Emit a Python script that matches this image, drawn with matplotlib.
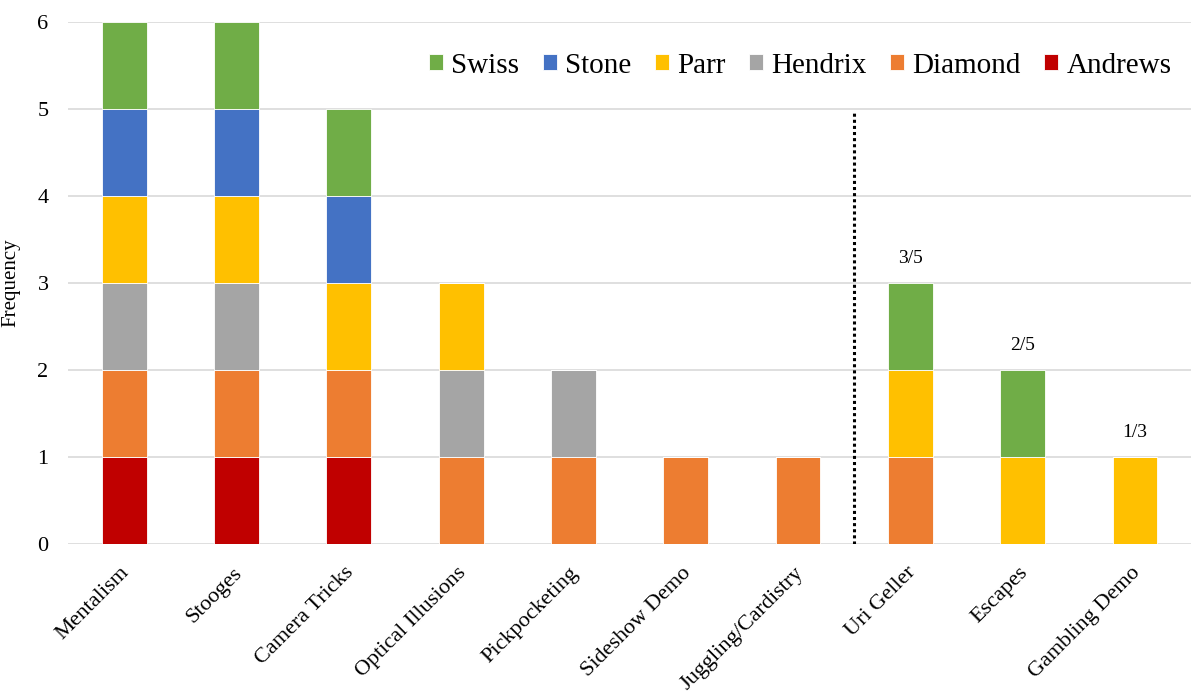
import matplotlib
matplotlib.use("Agg")
import matplotlib.pyplot as plt
import matplotlib.transforms as mtransforms
import numpy as np

categories = ["Mentalism", "Stooges", "Camera Tricks", "Optical Illusions", "Pickpocketing",
              "Sideshow Demo", "Juggling/Cardistry", "Uri Geller", "Escapes", "Gambling Demo"]
series_names = ["Andrews", "Diamond", "Hendrix", "Parr", "Stone", "Swiss"]
andrews = [1, 1, 1, 0, 0, 0, 0, 0, 0, 0]
diamond = [1, 1, 1, 1, 1, 1, 1, 1, 0, 0]
hendrix = [1, 1, 0, 1, 1, 0, 0, 0, 0, 0]
parr    = [1, 1, 1, 1, 0, 0, 0, 1, 1, 1]
stone   = [1, 1, 1, 0, 0, 0, 0, 0, 0, 0]
swiss   = [1, 1, 1, 0, 0, 0, 0, 1, 1, 0]
colors = ["#C00000", "#ED7D31", "#A5A5A5", "#FFC000", "#4472C4", "#70AD47"]
annot_cats = ["Uri Geller", "Escapes", "Gambling Demo"]
annot_texts = ["3/5", "2/5", "1/3"]
divider_x = 6.5
divider_top = 4.97

plt.rcParams['font.family'] = ['Liberation Serif', 'DejaVu Serif']

fig = plt.figure(figsize=(11.91, 6.92), dpi=100)
ax = fig.add_axes([0.0571, 0.2139, 0.943, 0.7543])

x = np.arange(len(categories))
data = [andrews, diamond, hendrix, parr, stone, swiss]
bottom = np.zeros(len(categories))
handles = {}
for name, vals, c in zip(series_names, data, colors):
    vals = np.array(vals, dtype=float)
    b = ax.bar(x, vals, 0.4, bottom=bottom, color=c, edgecolor="white", linewidth=0.6,
               label=name, zorder=3)
    handles[name] = b
    bottom += vals

for cat, txt in zip(annot_cats, annot_texts):
    i = categories.index(cat)
    ax.text(i, bottom[i] + 0.28, txt, ha="center", va="center", fontsize=14)

ax.plot([divider_x, divider_x], [0, divider_top], linestyle=(0, (1, 1)), color="black",
        linewidth=2.2, zorder=4)

ax.set_xlim(-0.5, len(categories) - 0.5)
ax.set_ylim(0, 6)
ax.set_yticks(range(0, 7))
ax.yaxis.grid(True, color="#D9D9D9", linewidth=1.2, zorder=0)
ax.set_axisbelow(True)
for s in ax.spines.values():
    s.set_visible(False)
ax.tick_params(axis="both", length=0, labelsize=16)
ax.tick_params(axis="y", pad=14)
ax.set_xticks(x)
ax.set_xticklabels(categories, rotation=45, ha="right", rotation_mode="anchor", fontsize=16)
ax.tick_params(axis="x", pad=14)
offset = mtransforms.ScaledTranslation(-3 / 72, 0, fig.dpi_scale_trans)
for lbl in ax.get_xticklabels():
    lbl.set_transform(lbl.get_transform() + offset)
ax.set_ylabel("Frequency", fontsize=15, labelpad=8)
ax.yaxis.set_label_coords(-0.042, 0.5)

order = ["Swiss", "Stone", "Parr", "Hendrix", "Diamond", "Andrews"]
leg = ax.legend([handles[n] for n in order], order, loc="upper right", ncol=6, frameon=False,
                fontsize=21, bbox_to_anchor=(0.998, 0.975), handlelength=0.48, handleheight=0.48,
                handletextpad=0.27, columnspacing=0.82, borderaxespad=0.2)

fig.savefig("out.png", dpi=100)
